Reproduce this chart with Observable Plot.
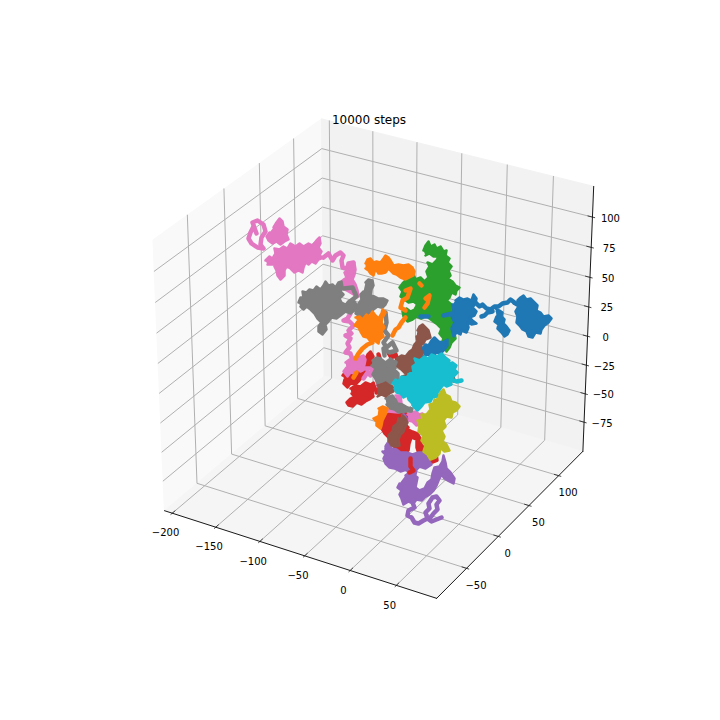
<!DOCTYPE html>
<html><head><meta charset="utf-8">
<script src="https://cdn.jsdelivr.net/npm/d3@7"></script>
<script src="https://cdn.jsdelivr.net/npm/@observablehq/plot@0.6"></script>
<style>html,body{margin:0;background:#fff}svg{display:block}</style>
</head><body><div id="chart"></div>
<script>
const xTicks=[-200,-150,-100,-50,0,50];
const yTicks=[-50,0,50,100];
const zTicks=[-75,-50,-25,0,25,50,75,100];
const xLim=[-203,87], yLim=[-90.8,137.2], zLim=[-96.5,120.5];
const titleText="10000 steps";
const palette={blue:"#1f77b4",orange:"#ff7f0e",green:"#2ca02c",red:"#d62728",purple:"#9467bd",brown:"#8c564b",pink:"#e377c2",gray:"#7f7f7f",olive:"#bcbd22",cyan:"#17becf"};

// walks in view coordinates: dense clusters as outlines, open stretches as threads
const redClusters=[[[342,375],[345,371],[348,372],[352,366],[357,364],[360,359],[365,358],[367,354],[370,351],[373,356],[371,362],[373,366],[368,368],[364,371],[362,376],[359,380],[355,384],[350,383],[347,387],[343,383],[344,379]],[[350,388],[355,385],[360,386],[365,382],[370,384],[373,382],[375,388],[372,392],[373,396],[369,399],[365,401],[361,404],[356,402],[352,406],[348,405],[346,402],[350,398],[354,396],[351,393]],[[380,417],[383,412],[387,414],[391,411],[396,414],[402,410],[406,413],[408,418],[404,423],[408,427],[403,430],[397,427],[391,431],[389,438],[384,433],[381,428],[383,423]],[[400,432],[406,428],[412,431],[417,433],[420,438],[421,444],[425,449],[431,451],[436,453],[437,460],[432,462],[428,458],[423,455],[418,453],[416,447],[416,439],[411,437],[409,443],[408,450],[403,452],[397,449],[392,445],[396,438]]];
const redThreads=[[[370,362],[376,372],[380,384],[376,392]],[[388,352],[391,357],[395,354],[397,360]],[[379,358],[378,354]]];
const purpleClusters=[[[385,448],[388,445],[391,448],[396,449],[400,452],[406,452],[412,454],[418,452],[424,452],[429,455],[428,460],[431,464],[425,468],[419,466],[416,469],[415,474],[409,474],[406,469],[400,471],[394,468],[389,467],[385,463],[383,458],[385,454],[382,451]],[[405,475],[409,472],[413,474],[417,477],[416,482],[415,487],[419,490],[424,488],[427,482],[431,479],[432,473],[434,467],[439,466],[442,461],[443,455],[445,462],[446,468],[450,472],[454,478],[453,483],[449,481],[444,478],[441,474],[438,480],[436,485],[433,490],[429,494],[424,497],[421,500],[416,499],[413,503],[408,501],[403,504],[401,498],[399,494],[401,490],[397,487],[399,483]]];
const purpleThreads=[[[403,415],[406,419],[400,423],[402,428],[396,432],[392,436],[390,440],[386,446]],[[412,502],[414,507],[408,510],[407,515],[411,517],[414,522],[418,523],[423,520],[427,518],[431,521],[436,519],[441,517]],[[427,518],[425,512],[429,508],[428,503],[432,497],[436,496],[439,500],[436,504],[437,509],[433,513],[430,517]]];
const redSpecks=[[[410,458],[410,466],[413,470],[409,472]]];
const pinkClusters=[[[273,227],[276,222],[279,218],[282,221],[283,226],[287,229],[286,234],[288,239],[284,241],[280,244],[276,241],[272,243],[268,240],[266,236],[269,232]],[[265,260],[269,256],[272,258],[275,253],[274,248],[279,249],[283,246],[287,248],[290,243],[295,246],[299,243],[303,246],[308,243],[312,245],[316,240],[319,237],[320,243],[318,247],[321,251],[319,255],[323,257],[318,259],[315,263],[311,261],[308,264],[305,262],[303,267],[302,272],[298,270],[294,272],[290,268],[286,266],[284,270],[284,275],[280,279],[277,275],[276,270],[274,266],[278,262],[272,264],[267,264]],[[348,265],[351,262],[354,263],[355,269],[354,274],[352,279],[355,284],[357,290],[358,296],[353,294],[348,291],[344,289],[340,284],[342,280],[346,277],[344,272],[347,270]],[[345,362],[349,359],[353,361],[358,357],[363,355],[365,359],[364,364],[362,370],[358,369],[355,373],[350,372],[347,376],[343,371],[346,367]],[[395,395],[400,395],[401,403],[396,404]],[[407,414],[411,412],[415,411],[419,414],[422,413],[423,418],[421,423],[416,425],[412,421],[408,420]]];
const pinkThreads=[[[256,233],[252,222],[257,220],[263,224],[265,231],[261,237],[260,244],[263,248],[257,247],[251,243],[248,238],[250,232],[253,226],[253,222]],[[323,257],[328,253],[332,260],[335,255],[340,252],[343,255],[341,260],[342,267],[347,268],[348,263],[353,262]],[[350,313],[347,318],[343,320],[349,321],[353,325],[348,330],[351,333],[345,335],[350,338],[347,343],[349,347],[345,352],[350,353],[352,360]],[[360,370],[363,368],[372,368],[370,375],[367,372],[363,378]],[[372,370],[377,380],[378,385]],[[388,410],[398,411]]];
const grayClusters=[[[298,302],[300,297],[303,297],[302,291],[306,292],[309,289],[313,290],[316,286],[320,289],[323,285],[325,281],[328,285],[332,284],[335,287],[338,282],[341,281],[342,287],[340,291],[343,294],[339,298],[341,302],[345,304],[350,300],[354,301],[357,306],[354,310],[350,313],[345,311],[340,315],[336,318],[331,317],[328,321],[325,324],[326,329],[322,334],[318,331],[318,326],[321,322],[317,318],[314,313],[310,309],[306,306],[303,309],[300,306]],[[365,282],[368,279],[372,280],[373,285],[371,289],[370,295],[374,296],[378,298],[383,298],[387,300],[385,304],[382,307],[377,306],[373,309],[369,312],[366,316],[362,318],[358,315],[355,313],[357,308],[358,303],[361,299],[360,294],[363,291]],[[372,360],[376,357],[380,358],[385,362],[390,358],[394,361],[397,360],[396,365],[394,369],[398,373],[398,378],[394,381],[391,383],[385,384],[381,381],[377,383],[375,378],[372,374],[375,368],[371,365]],[[385,398],[389,396],[392,395],[395,399],[397,403],[402,404],[407,407],[412,408],[411,411],[405,411],[398,412],[394,409],[390,408],[386,404]]];
const grayThreads=[[[343,288],[352,287],[356,296],[348,302]],[[385,312],[386,322],[384,330],[388,335],[383,342],[386,347],[392,342],[396,350],[389,352],[383,348],[384,355]]];
const brownClusters=[[[417,330],[419,326],[422,324],[425,327],[428,330],[430,337],[425,339],[423,343],[420,345],[423,350],[421,355],[423,361],[419,364],[418,371],[413,373],[408,371],[405,373],[401,369],[397,366],[399,361],[396,358],[401,355],[405,356],[409,351],[412,349],[414,344],[417,341],[416,336]],[[402,376],[408,374],[410,382],[405,384]],[[377,385],[381,384],[385,382],[389,385],[392,386],[393,391],[389,393],[385,396],[381,394],[377,396]],[[402,415],[405,418],[407,422],[405,426],[403,431],[400,434],[398,439],[399,445],[395,446],[391,445],[388,440],[388,435],[392,431],[393,426],[397,423],[398,418]]];
const brownThreads=[[[452,376],[453,380]]];
const greenClusters=[[[423,250],[425,245],[428,241],[430,246],[434,244],[436,248],[440,246],[443,251],[446,250],[445,255],[449,258],[447,262],[451,266],[448,270],[450,275],[447,278],[452,281],[455,285],[459,287],[456,290],[455,294],[451,292],[449,297],[446,300],[451,304],[454,308],[451,312],[454,316],[452,320],[456,325],[458,330],[454,333],[455,338],[451,342],[449,347],[446,351],[444,346],[441,343],[443,338],[439,333],[441,328],[437,324],[433,321],[429,318],[426,315],[421,318],[416,316],[412,319],[407,321],[403,316],[402,311],[406,308],[410,311],[414,309],[417,304],[413,301],[408,302],[404,299],[400,296],[402,291],[399,287],[402,283],[405,280],[408,276],[409,271],[413,274],[415,279],[420,277],[424,281],[428,277],[426,271],[429,266],[427,262],[432,264],[436,260],[438,256],[433,256],[429,253],[425,255]]];
const blueClusters=[[[455,300],[459,297],[463,299],[467,298],[471,300],[473,294],[476,298],[475,303],[472,307],[476,311],[474,315],[469,317],[472,320],[476,323],[471,324],[467,322],[468,327],[466,332],[461,330],[460,334],[456,332],[453,336],[451,328],[454,322],[451,316],[453,310],[452,304]],[[495,308],[499,310],[502,312],[501,316],[504,319],[503,323],[506,326],[509,330],[507,334],[504,336],[501,332],[497,328],[498,324],[494,321],[496,316]],[[517,300],[520,297],[523,295],[526,299],[530,298],[534,302],[537,305],[536,310],[540,312],[543,316],[548,315],[551,318],[548,322],[544,325],[541,329],[540,333],[535,332],[532,337],[528,336],[526,331],[522,329],[519,325],[516,322],[517,316],[515,311],[518,306],[513,303]],[[422,348],[425,344],[428,345],[431,340],[434,337],[438,341],[442,342],[447,339],[447,345],[444,349],[440,353],[436,352],[432,356],[427,354],[423,356]]];
const blueThreads=[[[475,302],[479,306],[482,304],[486,308],[490,309],[494,306],[498,306],[502,303],[507,302],[510,299],[514,302]],[[481,316],[484,315],[487,312],[492,311]],[[420,316],[428,316]],[[443,315],[452,313]]];
const orangeClusters=[[[365,263],[367,259],[370,258],[373,262],[376,261],[380,262],[383,258],[385,255],[388,257],[390,260],[393,265],[398,264],[403,265],[408,264],[412,267],[414,271],[413,275],[409,277],[405,279],[400,277],[396,274],[393,273],[388,268],[385,272],[381,273],[378,273],[375,268],[373,275],[370,273],[368,270],[365,268]],[[355,317],[359,316],[362,319],[366,314],[369,316],[372,311],[375,315],[378,318],[381,313],[382,309],[385,312],[382,317],[381,322],[384,327],[381,331],[383,336],[379,339],[378,343],[374,340],[370,341],[367,337],[363,336],[360,331],[358,327],[354,325],[357,321]],[[378,408],[382,406],[387,408],[386,412],[384,416],[382,420],[381,425],[380,428],[376,425],[376,421],[373,418],[377,416]]];
const orangeThreads=[[[405,290],[410,288],[407,297],[402,300],[400,307],[405,310]],[[425,298],[429,295],[427,303],[424,307]],[[419,283],[421,285]],[[405,317],[401,322],[398,327],[395,329],[392,335]],[[372,342],[367,344],[362,348],[358,353],[355,358]],[[356,372],[353,377]]];
const oliveClusters=[[[437,397],[440,392],[443,389],[445,394],[449,396],[451,401],[455,402],[459,406],[456,410],[452,412],[451,417],[446,416],[443,420],[445,426],[441,430],[444,436],[442,441],[446,444],[449,450],[444,451],[440,447],[439,453],[435,457],[430,459],[427,454],[423,451],[425,445],[421,440],[423,435],[418,431],[419,425],[417,420],[422,419],[421,414],[426,414],[430,409],[429,404],[433,403],[434,399]]];
const cyanClusters=[[[392,383],[395,379],[398,381],[401,376],[406,377],[409,373],[413,372],[412,366],[416,363],[414,358],[419,360],[424,356],[428,358],[431,354],[436,356],[441,353],[445,357],[449,360],[447,364],[452,362],[456,365],[454,369],[457,372],[453,376],[450,379],[451,384],[446,386],[443,384],[440,388],[437,392],[436,396],[432,397],[430,401],[424,402],[421,406],[417,410],[413,406],[411,402],[408,399],[407,395],[403,397],[400,393],[396,392],[394,388]]];
const cyanThreads=[[[448,378],[456,381],[461,380]]];

// matplotlib's default view: elevation 30, azimuth -60, distance 10
const el=Math.PI/6, az=-Math.PI/3, dist=10;
const E=[.5+dist*Math.cos(az)*Math.cos(el),.5+dist*Math.sin(az)*Math.cos(el),.5+dist*Math.sin(el)];
const norm=v=>{const n=Math.hypot(...v);return v.map(c=>c/n)};
const cross=(a,b)=>[a[1]*b[2]-a[2]*b[1],a[2]*b[0]-a[0]*b[2],a[0]*b[1]-a[1]*b[0]];
const dot=(a,b)=>a[0]*b[0]+a[1]*b[1]+a[2]*b[2];
const nv=norm([E[0]-.5,E[1]-.5,E[2]-.5]), uv=norm(cross([0,0,1],nv)), vv=cross(nv,uv);
function project(x,y,z){
  const p=[(x-xLim[0])/(xLim[1]-xLim[0])-E[0],(y-yLim[0])/(yLim[1]-yLim[0])-E[1],(z-zLim[0])/(zLim[1]-zLim[0])-E[2]];
  const cx=dot(uv,p), cy=dot(vv,p), cz=dot(nv,p);
  const xp=cx/(-cz), yp=cy/(-cz);
  return [90+(xp+0.095)/0.185*558, 631.5-(yp+0.095)/0.185*549];
}
const rx=(xLim[1]-xLim[0])/48, ry=(yLim[1]-yLim[0])/48, rz=(zLim[1]-zLim[0])/48;
const x0=xLim[0]-rx,x1=xLim[1]+rx,y0=yLim[0]-ry,y1=yLim[1]+ry,z0=zLim[0]-rz,z1=zLim[1]+rz;
const path=(pts)=>pts.map(p=>project(...p));
const px=d=>d[0], py=d=>d[1];
const marks=[];
const pane=(c,fill)=>marks.push(Plot.line(path(c),{x:px,y:py,fill,stroke:fill,strokeWidth:1}));
pane([[x0,y0,z0],[x0,y1,z0],[x0,y1,z1],[x0,y0,z1],[x0,y0,z0]],"#f9f9f9");
pane([[x0,y1,z0],[x1,y1,z0],[x1,y1,z1],[x0,y1,z1],[x0,y1,z0]],"#f2f2f2");
pane([[x0,y0,z0],[x1,y0,z0],[x1,y1,z0],[x0,y1,z0],[x0,y0,z0]],"#f5f5f5");
const grid=(pts)=>marks.push(Plot.line(path(pts),{x:px,y:py,stroke:"#b0b0b0",strokeWidth:1}));
xTicks.forEach(t=>grid([[t,y0,z0],[t,y1,z0],[t,y1,z1]]));
yTicks.forEach(t=>grid([[x1,t,z0],[x0,t,z0],[x0,t,z1]]));
zTicks.forEach(t=>grid([[x0,y0,t],[x0,y1,t],[x1,y1,t]]));
const ink=(pts,w)=>marks.push(Plot.line(path(pts),{x:px,y:py,stroke:"#1a1a1a",strokeWidth:w}));
ink([[x0,y0,z0],[x1,y0,z0]],1);ink([[x1,y0,z0],[x1,y1,z0]],1);ink([[x1,y1,z0],[x1,y1,z1]],1);
const dy=(yLim[1]-yLim[0])/12,dx=(xLim[1]-xLim[0])/12;
xTicks.forEach(t=>ink([[t,y0+.2*dy,z0],[t,y0-.1*dy,z0]],.8));
yTicks.forEach(t=>ink([[x1-.2*dx,t,z0],[x1+.1*dx,t,z0]],.8));
zTicks.forEach(t=>ink([[x1-.2*dx,y1,t],[x1+.1*dx,y1,t]],.8));
const fmt=t=>String(t).replace("-","\u2212");
const tickLabels=(ticks,pos,ox,oy)=>{const data=ticks.map(t=>{const p=project(...pos(t));return {x:p[0]+ox,y:p[1]+oy,t:fmt(t)}});
  marks.push(Plot.text(data,{x:"x",y:"y",text:"t",fontSize:10,fill:"#000",textAnchor:"middle",lineAnchor:"middle"}));};
tickLabels(xTicks,t=>[t,y0,z0],-6.7,20);
tickLabels(yTicks,t=>[x1,t,z0],9.5,17);
tickLabels(zTicks,t=>[x1,y1,t],18,1.3);
const walkMarks=(color,clusters,threads)=>{
  clusters.forEach(c=>marks.push(Plot.line(c,{x:px,y:py,fill:palette[color],stroke:palette[color],strokeWidth:2.5,strokeLinejoin:"round"})));
  threads.forEach(t=>marks.push(Plot.line(t,{x:px,y:py,stroke:palette[color],strokeWidth:4.5,strokeLinejoin:"round",strokeLinecap:"round"})));
};
walkMarks("red",redClusters,redThreads);
walkMarks("purple",purpleClusters,purpleThreads);
walkMarks("red",[],redSpecks);
walkMarks("pink",pinkClusters,pinkThreads);
walkMarks("gray",grayClusters,grayThreads);
walkMarks("brown",brownClusters,brownThreads);
walkMarks("green",greenClusters,[]);
walkMarks("blue",blueClusters,blueThreads);
walkMarks("orange",orangeClusters,orangeThreads);
walkMarks("olive",oliveClusters,[]);
walkMarks("cyan",cyanClusters,cyanThreads);
marks.push(Plot.text([{x:368.5,y:120,t:titleText}],{x:"x",y:"y",text:"t",fontSize:12,fill:"#000",textAnchor:"middle",lineAnchor:"middle"}));
const chart=Plot.plot({width:720,height:720,margin:0,x:{domain:[0,720],range:[0,720],axis:null},y:{domain:[0,720],range:[0,720],axis:null},style:{fontFamily:"'DejaVu Sans'",background:"#fff"},marks});
document.getElementById("chart").append(chart);
</script></body></html>
